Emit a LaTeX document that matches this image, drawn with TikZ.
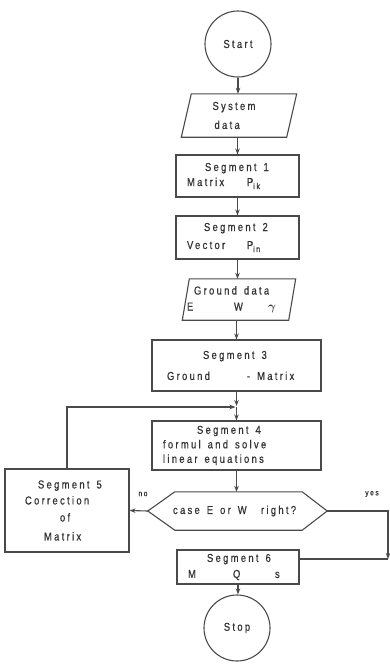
\documentclass[tikz,border=0pt]{standalone}
\usepackage{amsmath}
\usepackage{fontspec}
\setmainfont{Liberation Sans}[FakeStretch=0.82,LetterSpace=20,FakeBold=0.6]
\usetikzlibrary{arrows.meta}
\definecolor{ink}{HTML}{333333}
\definecolor{wire}{HTML}{4A4A4A}
\newcommand\lowsub[1]{\raisebox{-3pt}{\fontsize{8.5}{9}\selectfont #1}}
\newcommand\ws{\hspace{7pt}}
\tikzset{
  every node/.style={font=\fontsize{11.5}{15}\selectfont, text=ink},
  box/.style={draw=wire, line width=1.1pt, inner xsep=0pt, inner ysep=0pt, align=left,
              minimum width=#1, text width=#1},
  ghost/.style={inner xsep=0pt, inner ysep=0pt, align=left, minimum width=#1, text width=#1},
  term/.style={draw=wire, line width=1.1pt, circle, minimum size=66pt, inner sep=0pt, align=center},
  flow/.style={draw=wire, line width=1.1pt, -{Stealth[length=6pt,width=4.5pt]}},
  wireline/.style={draw=wire, line width=1.1pt},
  shapeline/.style={draw=wire, line width=1.1pt, line join=miter},
  small/.style={font=\fontsize{8}{9}\selectfont, text=ink, inner sep=0pt},
}
\begin{document}
\begin{tikzpicture}[x=1pt,y=-1pt]
\useasboundingbox (0,0) rectangle (389,664);
\fill[white] (0,0) rectangle (389,664);

% terminals
\node[term] (start) at (238,44) {Start};
\node[term] (stop) at (237,628) {Stop};

% system data (parallelogram)
\node[ghost=105pt, minimum height=43pt] (sd) at (239,115.5)
  {\hspace*{26pt}System\\[4pt]\hspace*{28pt}data};
\draw[shapeline] ([xshift=5pt]sd.north west) -- ([xshift=5pt]sd.north east)
  -- ([xshift=-5pt]sd.south east) -- ([xshift=-5pt]sd.south west) -- cycle;

% segment 1
\node[box=123pt, minimum height=42pt] (s1) at (237.5,176)
  {\hspace*{29pt}Segment\ws1\\\hspace*{11pt}\makebox[60pt][l]{Matrix}P\lowsub{ik}};

% segment 2
\node[box=123pt, minimum height=43pt] (s2) at (237.5,237.5)
  {\hspace*{28pt}Segment\ws2\\[3pt]\hspace*{11pt}\makebox[60pt][l]{Vector}P\lowsub{i\,n}};

% ground data (parallelogram)
\node[ghost=106pt, minimum height=41pt] (gd) at (239,299.5)
  {\hspace*{8pt}Ground\ws data\\[1pt]\hspace*{1pt}\makebox[47pt][l]{E}\makebox[34pt][l]{W}$\boldsymbol{\gamma}$};
\draw[shapeline] ([xshift=3.5pt]gd.north west) -- ([xshift=3.5pt]gd.north east)
  -- ([xshift=-3.5pt]gd.south east) -- ([xshift=-3.5pt]gd.south west) -- cycle;

% segment 3
\node[box=169pt, minimum height=51pt] (s3) at (236.5,365.5)
  {\hspace*{51pt}Segment\ws3\\[6pt]\hspace*{15pt}\makebox[80pt][l]{Ground}-\ws Matrix};

% segment 4
\node[box=169pt, minimum height=49pt] (s4) at (236.5,445.5)
  {\hspace*{45pt}Segment\ws4\\[-0.5pt]\hspace*{11pt}formul\ws and\ws solve\\[-0.5pt]\hspace*{11pt}linear\ws equations};

% decision
\node[ghost=179pt, minimum height=38pt] (dec) at (237.5,511)
  {\hspace*{25pt}\makebox[88pt][l]{case\ws E\ws or\ws W}right?};
\draw[shapeline] (dec.west) -- ([xshift=27pt]dec.north west) -- ([xshift=-25pt]dec.north east)
  -- (dec.east) -- ([xshift=-25pt]dec.south east) -- ([xshift=27pt]dec.south west) -- cycle;

% segment 5
\node[box=124pt, minimum height=83pt] (s5) at (67,510.5)
  {\hspace*{33pt}Segment\ws5\\[1pt]\hspace*{20pt}Correction\\[2pt]\hspace*{55pt}of\\[4pt]\hspace*{39pt}Matrix};

% segment 6
\node[box=122pt, minimum height=34pt] (s6) at (238,567)
  {\hspace*{30pt}Segment\ws6\\[1pt]\hspace*{11pt}\makebox[45pt][l]{M}\makebox[42pt][l]{Q}s};

% labels
\node[small] (no) at (143,494) {no};
\node[small] (yes) at (372,494) {yes};

% connectors
\draw[flow] (start.south) -- (start.south |- sd.north);
\draw[flow] (s1.north |- sd.south) -- (s1.north);
\draw[flow] (s1.south) -- (s2.north);
\draw[flow] (s2.south) -- (s2.south |- gd.north);
\draw[flow] (s3.north |- gd.south) -- (s3.north);
\coordinate (j) at (s3.south |- 0,407);
\draw[flow, shorten >=1pt] (s3.south) -- (j);
\draw[flow, shorten >=1pt] (s5.north) |- (j);
\draw[flow] (j) -- (s4.north);
\draw[flow] (s4.south) -- (s4.south |- dec.north);
\draw[flow] (dec.west) -- (s5.east);
\coordinate (ycorner) at (388,559);
\draw[flow] (dec.east) -| (ycorner);
\draw[wireline] (ycorner) -- (ycorner -| s6.east);
\draw[flow] (s6.south) -- (s6.south |- stop.north);
\end{tikzpicture}
\end{document}
